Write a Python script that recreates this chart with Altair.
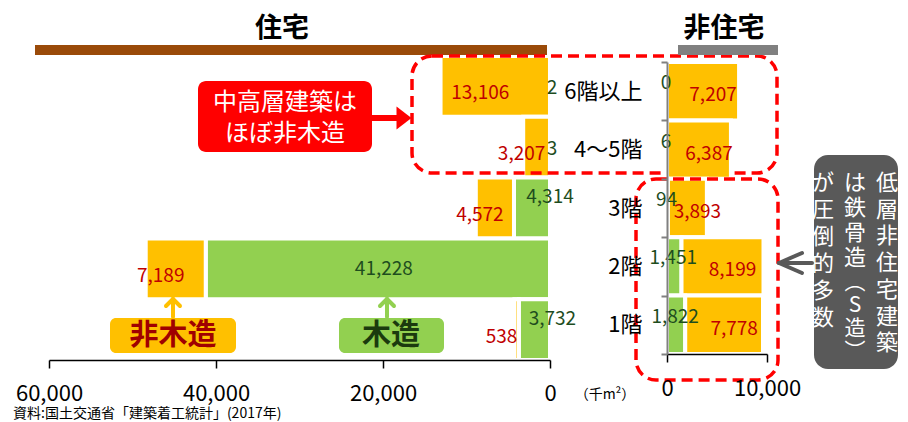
import altair as alt
import pandas as pd

# ---------------- data ----------------
floors = ["6階以上", "4〜5階", "3階", "2階", "1階"]
types = ["木造", "非木造"]
res_wood = [2, 3, 4314, 41228, 3732]
res_nonwood = [13106, 3207, 4572, 7189, 538]
nonres_wood = [0, 6, 94, 1451, 1822]
nonres_nonwood = [7207, 6387, 3893, 8199, 7778]
left_ticks = [0, 20000, 40000, 60000]
right_ticks = [0, 10000]

GREEN = "#92D050"
ORANGE = "#FFC000"
RED_TXT = "#C00000"
GRN_TXT = "#1E4D1E"
RED = "#FF0000"
DARK = "#595959"
FONT = "Noto Sans CJK JP"


def long(wood, nonwood):
    rows = []
    for f, w, n in zip(floors, wood, nonwood):
        rows.append({"floor": f, "type": types[0], "order": 0, "value": w})
        rows.append({"floor": f, "type": types[1], "order": 1, "value": n})
    return pd.DataFrame(rows)


res_df = long(res_wood, res_nonwood)
non_df = long(nonres_wood, nonres_nonwood)
one = pd.DataFrame({"k": [0]})


def base(df):
    return (
        alt.Chart(df)
        .transform_stack(
            stack="value",
            groupby=["floor"],
            as_=["x0", "x1"],
            sort=[alt.SortField(field="order", order="ascending")],
        )
        .transform_calculate(
            mid="(datum.x0 + datum.x1) / 2", label="format(datum.value, ',')"
        )
    )


def box(x, x2, y, y2, **kw):
    return alt.Chart(one).mark_rect(**kw).encode(
        x=alt.value(x), x2=alt.value(x2), y=alt.value(y), y2=alt.value(y2)
    )


def line(x, x2, y, y2, color, w):
    return alt.Chart(one).mark_rule(color=color, strokeWidth=w, strokeCap="round").encode(
        x=alt.value(x), x2=alt.value(x2), y=alt.value(y), y2=alt.value(y2)
    )


def txt(text, x, y, **kw):
    return alt.Chart(one).mark_text(text=text, **kw).encode(x=alt.value(x), y=alt.value(y))


color_enc = alt.Color(
    "type:N", scale=alt.Scale(domain=types, range=[GREEN, ORANGE]), legend=None
)
LBL = "format(datum.value, ',')"

# ---------------- left panel (住宅) ----------------
xl = alt.Scale(domain=[0, 60000], reverse=True, nice=False)
yl = alt.Scale(domain=floors, paddingInner=0, paddingOuter=0)
ax_l = alt.Axis(
    values=left_ticks, labelExpr=LBL, title=None, grid=False, labelFlush=False,
    domainColor="black", domainWidth=1.5, tickColor="black", tickWidth=1.5,
    tickSize=8, labelFontSize=22, labelColor="black", labelPadding=15, zindex=1,
)


def xL(field):
    return alt.X(field, scale=xl, axis=ax_l)


def yL():
    return alt.Y("floor:N", scale=yl, axis=None)


bars_l = base(res_df).mark_bar(stroke="white", strokeWidth=4).encode(
    x=xL("x0:Q"), x2="x1:Q", y=yL(), color=color_enc
)

lbl_l_nw = base(res_df).transform_filter("datum.order == 1").mark_text(
    fontSize=19, color=RED_TXT, dx=-15, dy=7
).encode(x=xL("mid:Q"), y=yL(), text="label:N")

lbl_l_w_tiny = base(res_df).transform_filter("datum.order == 0 && datum.value < 1000").mark_text(
    fontSize=19, color=GRN_TXT, dx=2, dy=2
).encode(x=xL("mid:Q"), y=yL(), text="label:N")

lbl_l_w_small = base(res_df).transform_filter(
    "datum.order == 0 && datum.value >= 1000 && datum.value < 10000"
).mark_text(fontSize=19, color=GRN_TXT, dx=18, dy=-11).encode(
    x=xL("mid:Q"), y=yL(), text="label:N"
)

lbl_l_w_big = base(res_df).transform_filter("datum.order == 0 && datum.value >= 10000").mark_text(
    fontSize=19, color=GRN_TXT, dx=6, dy=0
).encode(x=xL("mid:Q"), y=yL(), text="label:N")

left_deco = [
    txt("住宅", 233, -27, fontSize=27, fontWeight="bold", color="black"),
    box(-14, 498, -11, -1, color="#9A4A09"),
    # callout
    box(149, 323, 25, 96, color=RED, cornerRadius=8),
    txt(["中高層建築は", "ほぼ非木造"], 236, 47, fontSize=24, color="white", lineHeight=31),
    line(323, 350, 62, 62, RED, 6),
    alt.Chart(one).mark_point(
        shape="M-0.65,-1L0.65,0L-0.65,1Z", filled=True, size=529, color=RED, opacity=1
    ).encode(x=alt.value(355), y=alt.value(62)),
    box(363, 728, 0, 117, fillOpacity=0, stroke=RED, strokeWidth=3.5,
        strokeDash=[11, 6], cornerRadius=20),
    # 非木造 / 木造 tags
    box(61, 187, 262, 297, color=ORANGE, cornerRadius=6),
    txt("非木造", 124, 280, fontSize=29, fontWeight="bold", color="#A00000"),
    box(290, 395, 262, 297, color=GREEN, cornerRadius=6),
    txt("木造", 342, 280, fontSize=29, fontWeight="bold", color="#1B3A0E"),
    line(124, 124, 243, 261, ORANGE, 4),
    line(124, 117, 243, 250, ORANGE, 4),
    line(124, 131, 243, 250, ORANGE, 4),
    line(338, 338, 243, 261, GREEN, 4),
    line(338, 331, 243, 250, GREEN, 4),
    line(338, 345, 243, 250, GREEN, 4),
    txt("（千m²）", 556, 339, fontSize=14, color="black"),
    txt("資料:国土交通省「建築着工統計」(2017年)", -36, 358, fontSize=14, align="left", color="black"),
]

left = alt.layer(
    bars_l, lbl_l_nw, lbl_l_w_tiny, lbl_l_w_small, lbl_l_w_big, *left_deco
).properties(width=501, height=304)

# ---------------- right panel (非住宅) ----------------
xr = alt.Scale(domain=[0, 10000], nice=False)
yr = alt.Scale(domain=floors, range=[6, 298], paddingInner=0, paddingOuter=0)
ax_rx = alt.Axis(
    values=right_ticks, labelExpr=LBL, title=None, grid=False, labelFlush=False,
    domainColor="black", domainWidth=1.5, tickColor="black", tickWidth=1.5,
    tickSize=8, labelFontSize=22, labelColor="black", labelPadding=16, zindex=1,
)
ax_ry = alt.Axis(
    title=None, domainColor="#808080", domainWidth=2, tickColor="#808080",
    tickWidth=2, tickSize=6, tickBand="extent", labelFontSize=22,
    labelColor="black", labelPadding=19, zindex=1,
)


def xR(field):
    return alt.X(field, scale=xr, axis=ax_rx)


def yR():
    return alt.Y("floor:N", scale=yr, axis=ax_ry)


bars_r = base(non_df).mark_bar(stroke="white", strokeWidth=4).encode(
    x=xR("x0:Q"), x2="x1:Q", y=yR(), color=color_enc
)

lbl_r_nw = base(non_df).transform_filter("datum.order == 1").mark_text(
    fontSize=19, color=RED_TXT, dx=10, dy=4
).encode(x=xR("mid:Q"), y=yR(), text="label:N")

lbl_r_w = base(non_df).transform_filter("datum.order == 0").mark_text(
    fontSize=19, color=GRN_TXT, dx=-1, dy=-8
).encode(x=xR("mid:Q"), y=yR(), text="label:N")

right_deco = [
    txt("非住宅", 57, -27, fontSize=27, fontWeight="bold", color="black"),
    box(11, 111, -11, -1, color="#808080"),
    box(-31, 111, 123, 324, fillOpacity=0, stroke=RED, strokeWidth=3.5,
        strokeDash=[11, 6], cornerRadius=20),
    box(147, 231, 99, 313, color=DARK, cornerRadius=14),
    txt(["低", "層", "非", "住", "宅", "建", "築"], 220, 127, fontSize=22, color="white", lineHeight=26.7),
    txt(["は", "鉄", "骨", "造"], 188, 127, fontSize=22, color="white", lineHeight=25),
    txt(["︵", "S", "造", "︶"], 188, 227, fontSize=21, color="white", lineHeight=23),
    txt(["が", "圧", "倒", "的", "多", "数"], 156, 127, fontSize=22, color="white", lineHeight=27),
    line(112, 145, 207, 207, DARK, 4),
    line(112, 135, 207, 197, DARK, 4),
    line(112, 135, 207, 217, DARK, 4),
]

right = alt.layer(bars_r, lbl_r_nw, lbl_r_w, *right_deco).properties(width=100, height=298)

chart = (
    alt.hconcat(left, right, spacing=117, bounds="flush")
    .properties(padding={"left": 5, "top": 7, "right": 0, "bottom": 0})
    .configure(font=FONT)
    .configure_view(stroke=None)
)

chart.save("out.html", embed_options={"renderer": "svg", "actions": False})
